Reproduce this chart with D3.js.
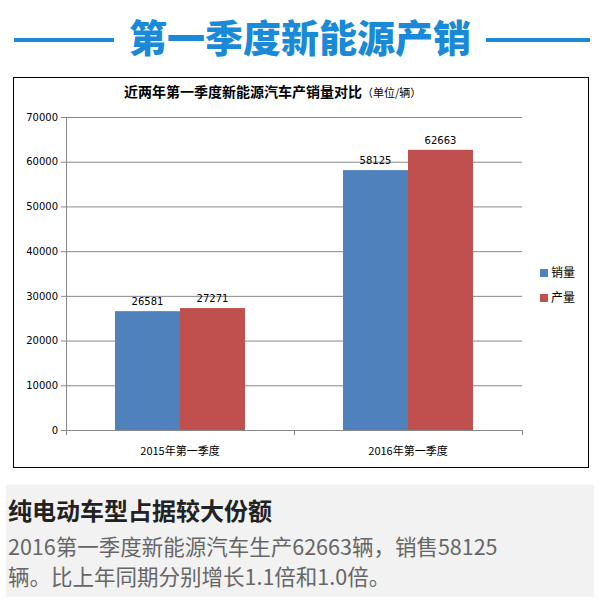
<!DOCTYPE html><html><head><meta charset="utf-8"><script src="https://cdn.jsdelivr.net/npm/d3@7"></script>
<style>body{margin:0;background:#fff}</style></head><body><svg id="c" width="600" height="613"></svg><script>
const categories=["2015年第一季度","2016年第一季度"];
const seriesNames=["销量","产量"];
const sales=[26581,58125];
const production=[27271,62663];
const yTicks=[0,10000,20000,30000,40000,50000,60000,70000];
const colors=["#4f81bd","#c0504d"];
const svg=d3.select("#c");
const F="'Noto Sans CJK SC','Noto Sans',sans-serif";
// header
svg.append("text").attr("x",300).attr("y",52).attr("text-anchor","middle").attr("font-family",F).attr("font-weight",900).attr("font-size",38).attr("fill","#1a8ad8").text("第一季度新能源产销");
svg.append("rect").attr("x",14).attr("y",38).attr("width",100).attr("height",4).attr("fill","#1a8ad8");
svg.append("rect").attr("x",486).attr("y",38).attr("width",104).attr("height",4).attr("fill","#1a8ad8");
// chart box
svg.append("rect").attr("x",13.5).attr("y",77.5).attr("width",575).attr("height",390).attr("fill","#fff").attr("stroke","#000");
svg.append("text").attr("x",124).attr("y",97).attr("font-family",F).attr("font-weight",700).attr("font-size",14).attr("fill","#000").text("近两年第一季度新能源汽车产销量对比").append("tspan").attr("font-weight",400).attr("font-size",11).text("（单位/辆）");
const y=d3.scaleLinear().domain([0,70000]).range([430,117]);
const x0=d3.scaleBand().domain(categories).range([66,522]).paddingInner(0.43).paddingOuter(0.215);
const x1=d3.scaleBand().domain(seriesNames).range([0,x0.bandwidth()]);
const g=svg.append("g");
g.append("g").attr("transform","translate(66,0)").call(d3.axisLeft(y).tickValues(yTicks).tickSize(5).tickFormat(d3.format("d"))).call(a=>{a.select(".domain").attr("stroke","#888");a.selectAll("line").attr("stroke","#888");a.selectAll("text").attr("font-family","'DejaVu Sans',sans-serif").attr("font-size",10).attr("fill","#000");});
g.selectAll(".grid").data(yTicks.slice(1)).join("line").attr("x1",66).attr("x2",522).attr("y1",d=>y(d)+.5).attr("y2",d=>y(d)+.5).attr("stroke","#888");
const xa=d3.scaleLinear().domain([0,2]).range([66,522]);
g.append("g").attr("transform","translate(0,430)").call(d3.axisBottom(xa).ticks(2).tickSize(5).tickFormat("")).call(a=>{a.select(".domain").attr("stroke","#888");a.selectAll("line").attr("stroke","#888");});
categories.forEach((c,i)=>{
 [sales[i],production[i]].forEach((v,j)=>{
  const bx=x0(c)+x1(seriesNames[j]);
  g.append("rect").attr("x",bx).attr("y",y(v)).attr("width",x1.bandwidth()).attr("height",430-y(v)).attr("fill",colors[j]);
  g.append("text").attr("x",bx+x1.bandwidth()/2).attr("y",y(v)-6).attr("text-anchor","middle").attr("font-family","'DejaVu Sans',sans-serif").attr("font-size",10).text(v);
 });
 g.append("text").attr("x",x0(c)+x0.bandwidth()/2).attr("y",455).attr("text-anchor","middle").attr("font-family",F).attr("font-size",11).text(c);
});
seriesNames.forEach((s,j)=>{
 svg.append("rect").attr("x",540).attr("y",269+j*25).attr("width",8).attr("height",8).attr("fill",colors[j]);
 svg.append("text").attr("x",551).attr("y",277+j*25).attr("font-family",F).attr("font-size",12).text(s);
});
// bottom panel
svg.append("rect").attr("x",6).attr("y",485).attr("width",588).attr("height",112).attr("fill","#f2f2f2");
svg.append("text").attr("x",8).attr("y",520).attr("font-family",F).attr("font-weight",700).attr("font-size",24).attr("fill","#222").text("纯电动车型占据较大份额");
svg.append("text").attr("x",8).attr("y",555).attr("font-family",F).attr("font-size",21.5).attr("fill","#666").text("2016第一季度新能源汽车生产62663辆，销售58125");
svg.append("text").attr("x",8).attr("y",585).attr("font-family",F).attr("font-size",21.5).attr("fill","#666").text("辆。比上年同期分别增长1.1倍和1.0倍。");
</script></body></html>
